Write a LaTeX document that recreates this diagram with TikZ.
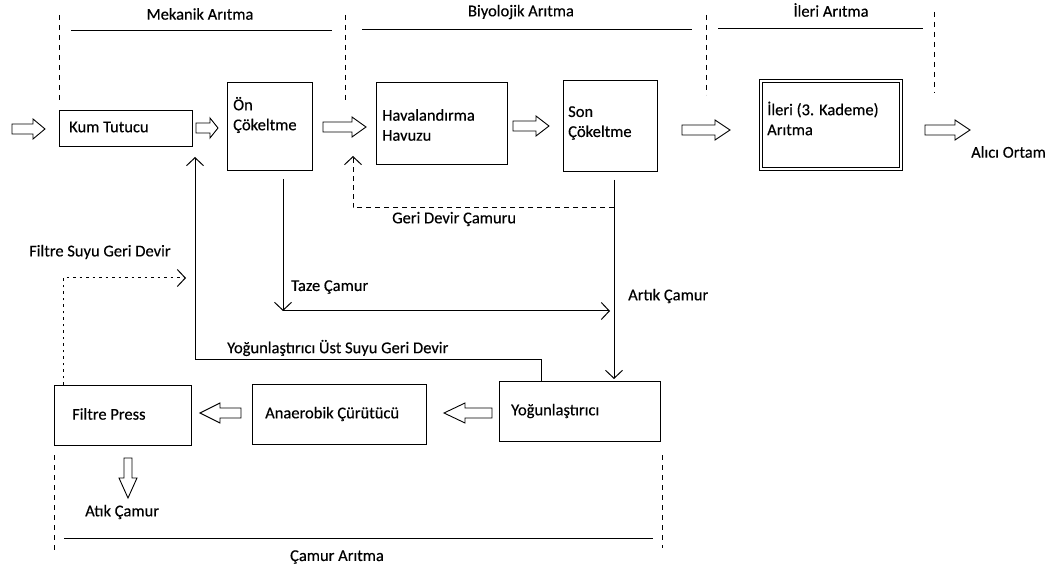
\documentclass[tikz,border=0pt]{standalone}
\usepackage{fontspec}
\setmainfont[FakeBold=0.35]{Carlito}
\usetikzlibrary{arrows.meta}
\newcommand{\blkR}[4]{\draw[blk] (#1,#3-5) -- (#2-#4,#3-5) -- (#2-#4,#3-10) -- (#2,#3) -- (#2-#4,#3+10) -- (#2-#4,#3+5) -- (#1,#3+5) -- cycle;}
\newcommand{\blkL}[4]{\draw[blk] (#2,#3-5) -- (#1+#4,#3-5) -- (#1+#4,#3-10) -- (#1,#3) -- (#1+#4,#3+10) -- (#1+#4,#3+5) -- (#2,#3+5) -- cycle;}
\newcommand{\blkD}[4]{\draw[blk] (#1-4,#2) -- (#1-4,#3-#4) -- (#1-9,#3-#4) -- (#1,#3) -- (#1+9,#3-#4) -- (#1+4,#3-#4) -- (#1+4,#2) -- cycle;}
\begin{document}
\begin{tikzpicture}[x=1pt,y=-1pt,
  every node/.style={font=\fontsize{16.5}{20}\selectfont},
  box/.style={draw,line width=1pt,inner sep=0pt},
  txt/.style={inner sep=0pt,anchor=west,align=left},
  ctxt/.style={inner sep=0pt},
  blk/.style={draw,line width=0.9pt,line join=miter},
  conn/.style={line width=1pt},
  barb/.style={-{Straight Barb[length=8pt,width=17pt,line width=1pt]}},
  sect/.style={line width=1pt,dash pattern=on 5pt off 5pt},
  hline/.style={line width=1pt},
  gdash/.style={line width=1pt,dash pattern=on 5pt off 4pt},
  fdot/.style={line width=1pt,dash pattern=on 2.5pt off 4pt}]
\useasboundingbox (0,0) rectangle (1053,569);

% section headers
\node[ctxt] (tmek) at (200,14) {Mekanik Arıtma};
\node[ctxt] (tbiy) at (521,12) {Biyolojik Arıtma};
\node[ctxt] (tile) at (831,10) {İleri Arıtma};
\draw[hline] (71,31) -- (332,31);
\draw[hline] (362,30) -- (692,30);
\draw[hline] (718,29) -- (923,29);
\draw[sect] (59,15) -- (59,100);
\draw[sect] (345,15) -- (345,100);
\draw[sect] (706,15) -- (706,95);
\draw[sect] (934,12) -- (934,93);

% boxes
\node[box,minimum width=133pt,minimum height=36pt] (kum) at (126,128.5) {};
\node[box,minimum width=85pt,minimum height=88pt] (on) at (270,126.5) {};
\node[box,minimum width=131pt,minimum height=82pt] (hav) at (442,123.5) {};
\node[box,minimum width=94pt,minimum height=91pt] (son) at (610.5,126) {};
\node[draw,double,double distance=2pt,line width=0.8pt,inner sep=0pt,minimum width=140.5pt,minimum height=88.5pt] (ileri) at (831,125) {};
\node[box,minimum width=137pt,minimum height=60pt] (filtre) at (123,415.5) {};
\node[box,minimum width=174pt,minimum height=60pt] (ana) at (339.5,414.5) {};
\node[box,minimum width=161pt,minimum height=60pt] (yog) at (580,411.5) {};

% box texts
\node[txt] (kumt) at (69,127) {Kum Tutucu};
\node[txt] (ont) at (233,115) {Ön\\Çökeltme};
\node[txt] (havt) at (382,125) {Havalandırma\\Havuzu};
\node[txt] (sont) at (568,123) {Son\\Çökeltme};
\node[txt] (ilerit) at (767,118.5) {İleri (3. Kademe)\\Arıtma};
\node[txt] (filtret) at (72,414) {Filtre Press};
\node[txt] (anat) at (265,414) {Anaerobik Çürütücü};
\node[txt] (yogt) at (511,411) {Yoğunlaştırıcı};

% block arrows
\blkR{12}{45}{129}{12}
\blkR{196}{218}{128}{8}
\blkR{323}{366}{127}{14}
\blkR{513}{549}{126}{13}
\blkR{682}{730}{130}{15}
\blkR{925}{970}{130}{15}
\blkL{444}{492}{413}{21}
\blkL{200}{241}{413}{20}
\blkD{128}{458}{498}{20}

% connectors
\coordinate (c1) at (541,360);
\coordinate (c2) at (195,360);
\coordinate (kumin) at (195,157);
\draw[conn,barb] (yog.north -| c1) -- (c1) -- (c2) -- (kumin);

\coordinate (onout) at (283,179);
\coordinate (t1) at (283,311);
\coordinate (t2) at (610,311);
\draw[conn,barb] (onout) -- (t1);
\draw[conn,barb] (t1) -- (t2);

\coordinate (sonout) at (614,180);
\coordinate (yogin) at (614,379);
\draw[conn,barb] (sonout) -- (yogin);

\coordinate (g1) at (614,208);
\coordinate (g2) at (353,208);
\coordinate (g3) at (353,156);
\draw[gdash,barb] (g1) -- (g2) -- (g3);

\coordinate (f1) at (63,278);
\coordinate (f2) at (186,278);
\draw[fdot,barb] (filtre.north -| f1) -- (f1) -- (f2);

% connector labels
\node[txt] (lgeri) at (392,219) {Geri Devir Çamuru};
\node[txt] (ltaze) at (291,287) {Taze Çamur};
\node[txt] (lartik) at (628,296) {Artık Çamur};
\node[txt] (lust) at (227,348) {Yoğunlaştırıcı Üst Suyu Geri Devir};
\node[txt] (lfs) at (29,252) {Filtre Suyu Geri Devir};
\node[txt] (latik) at (85,512) {Atık Çamur};
\node[txt] (lalici) at (971,152) {Alıcı Ortam};

% sludge section
\draw[sect] (54,455) -- (54,550);
\draw[sect] (662,455) -- (662,548);
\draw[hline] (64,538) -- (653,538);
\node[ctxt] (tcam) at (337,557) {Çamur Arıtma};
\end{tikzpicture}
\end{document}
